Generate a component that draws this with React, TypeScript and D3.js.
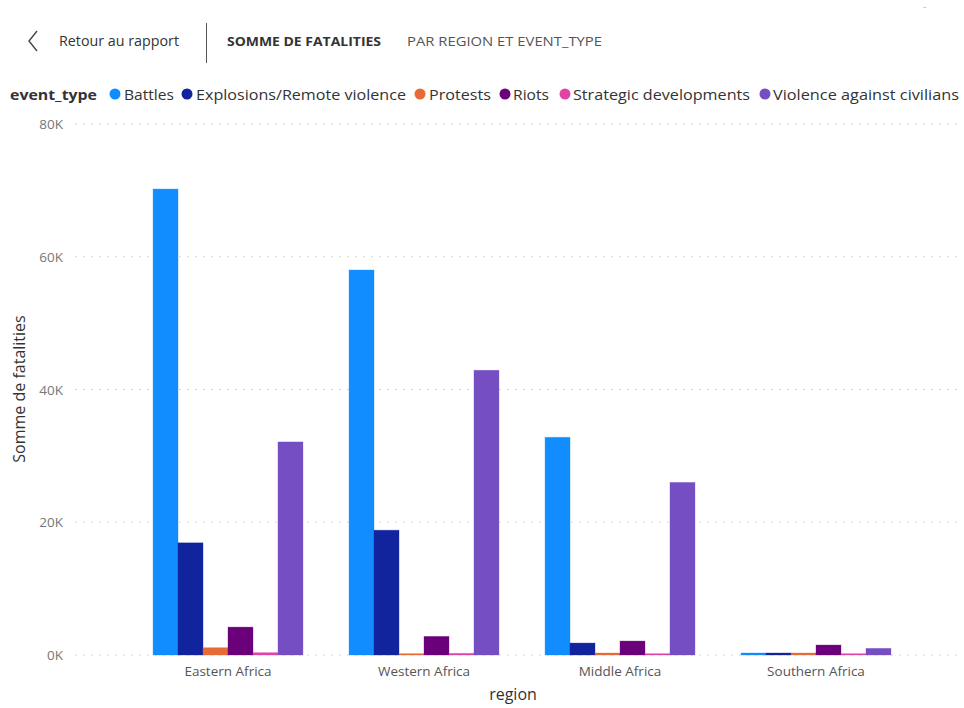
import React from "react";
import * as d3 from "d3";

const regions = ["Eastern Africa", "Western Africa", "Middle Africa", "Southern Africa"];
const eventTypes = ["Battles", "Explosions/Remote violence", "Protests", "Riots", "Strategic developments", "Violence against civilians"];
const colors = ["#118DFF", "#12239E", "#E66C37", "#6B007B", "#E044A7", "#744EC2"];
const battles = [70200, 58000, 32800, 300];
const explosions = [16900, 18800, 1800, 300];
const protests = [1100, 200, 300, 300];
const riots = [4200, 2800, 2100, 1500];
const strategic = [350, 250, 200, 200];
const violenceCivilians = [32100, 42900, 26000, 1000];
const yTicks = [0, 20000, 40000, 60000, 80000];

const series = [battles, explosions, protests, riots, strategic, violenceCivilians];

// legend layout (x of dot, text start, text width)
const legendPos = [
  [115, 124, 50],
  [187, 196, 210],
  [420, 429, 62],
  [505, 513, 36],
  [565, 573, 177],
  [765, 773, 186],
];

export default function App() {
  const W = 964, H = 708;
  const y = d3.scaleLinear().domain([0, 80000]).range([655, 124]);
  const x0 = d3.scaleBand().domain(regions).range([130, 914]).paddingInner(0.235).paddingOuter(0.1175);
  const x1 = d3.scaleBand().domain(eventTypes).range([0, x0.bandwidth()]);
  const font = "'Segoe UI', 'Open Sans', 'Noto Sans', sans-serif";
  return (
    <svg width={W} height={H} style={{ position: "absolute", left: 0, top: 0, background: "#fff" }} fontFamily={font}>
      {/* header */}
      <path d="M37,31 L29,41 L37,51" fill="none" stroke="#444" strokeWidth={1.4} />
      <text x={59} y={46} fontSize={14} fill="#333" textLength={120} lengthAdjust="spacingAndGlyphs">Retour au rapport</text>
      <line x1={206.5} x2={206.5} y1={23} y2={63} stroke="#555" strokeWidth={1} />
      <text x={227} y={46} fontSize={13} fontWeight="bold" fill="#333" textLength={154} lengthAdjust="spacingAndGlyphs">SOMME DE FATALITIES</text>
      <text x={407} y={46} fontSize={13} fill="#555" textLength={195} lengthAdjust="spacingAndGlyphs">PAR REGION ET EVENT_TYPE</text>
      <text x={923} y={12} fontSize={8} fill="#999">ˇ</text>

      {/* legend */}
      <text x={10} y={100} fontSize={15} fontWeight="bold" fill="#333" textLength={87} lengthAdjust="spacingAndGlyphs">event_type</text>
      {eventTypes.map((t, i) => (
        <g key={t}>
          <circle cx={legendPos[i][0]} cy={94} r={5.5} fill={colors[i]} />
          <text x={legendPos[i][1]} y={100} fontSize={15} fill="#333" textLength={legendPos[i][2]} lengthAdjust="spacingAndGlyphs">{t}</text>
        </g>
      ))}

      {/* gridlines */}
      {yTicks.map((t) => (
        <g key={t}>
          <line x1={75} x2={960} y1={y(t)} y2={y(t)} stroke="#C8C8C8" strokeWidth={1} strokeDasharray="1.5,6.5" />
          <text x={63} y={y(t) + 5} fontSize={13.5} fill="#777" textAnchor="end">{d3.format("d")(t / 1000)}K</text>
        </g>
      ))}

      {/* bars */}
      {regions.map((r, ri) => (
        <g key={r} transform={`translate(${x0(r)},0)`}>
          {eventTypes.map((e, ei) => {
            const v = series[ei][ri];
            return (
              <rect key={e} x={x1(e)} width={x1.bandwidth()} y={y(v)} height={y(0) - y(v)} fill={colors[ei]}
                stroke={colors[ei]} strokeOpacity={0.4} strokeWidth={0.8} />
            );
          })}
          <text x={x0.bandwidth() / 2} y={676} fontSize={13.5} fill="#555" textAnchor="middle">{r}</text>
        </g>
      ))}

      {/* axis titles */}
      <text x={513} y={700} fontSize={16} fill="#333" textAnchor="middle">region</text>
      <text transform="translate(25,389) rotate(-90)" fontSize={16} fill="#333" textAnchor="middle">Somme de fatalities</text>
    </svg>
  );
}
